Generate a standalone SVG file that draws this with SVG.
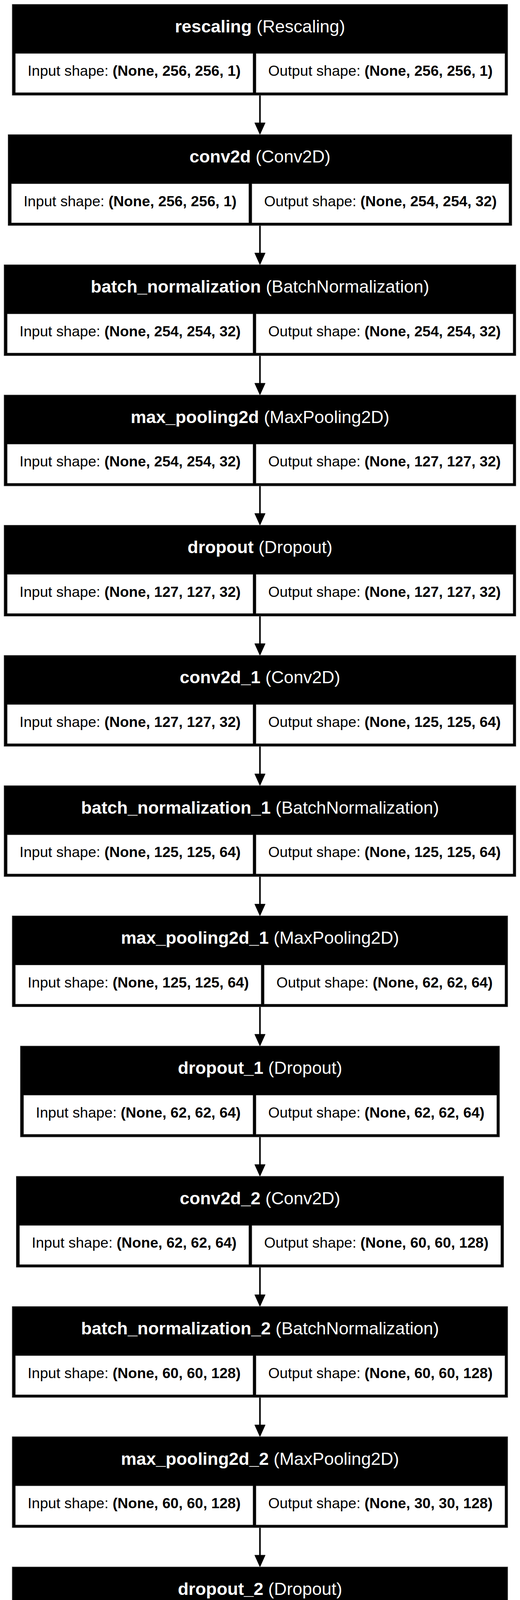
<svg xmlns="http://www.w3.org/2000/svg" width="1331" height="5922" viewBox="0 0 1331 5922">
<style>
.bg{fill:#ffffff}
.box{fill:#000000;stroke:#555555;stroke-width:1}
.cell{fill:#ffffff;stroke:#666666;stroke-width:0.8}
.h{font-family:"Liberation Sans",Arial,Helvetica,sans-serif;font-size:44.8px;fill:#ffffff;text-anchor:middle}
.b{font-family:"Liberation Sans",Arial,Helvetica,sans-serif;font-size:37.6px;fill:#000000;text-anchor:middle}
.bd{font-weight:bold}
.edge line{stroke:#000000;stroke-width:4}
.edge polygon{fill:#000000;stroke:#000000;stroke-width:1}
</style>
<rect class="bg" x="0" y="0" width="1331" height="5922"/>
<g id="connectors" class="edge">
<line x1="665.4" y1="244" x2="665.4" y2="316.35"/><polygon points="651.9,314.35 678.9,314.35 665.4,344.35"/>
<line x1="665.4" y1="577.35" x2="665.4" y2="649.7"/><polygon points="651.9,647.7 678.9,647.7 665.4,677.7"/>
<line x1="665.4" y1="910.7" x2="665.4" y2="983.05"/><polygon points="651.9,981.05 678.9,981.05 665.4,1011.05"/>
<line x1="665.4" y1="1244.05" x2="665.4" y2="1316.4"/><polygon points="651.9,1314.4 678.9,1314.4 665.4,1344.4"/>
<line x1="665.4" y1="1577.4" x2="665.4" y2="1649.75"/><polygon points="651.9,1647.75 678.9,1647.75 665.4,1677.75"/>
<line x1="665.4" y1="1910.75" x2="665.4" y2="1983.1"/><polygon points="651.9,1981.1 678.9,1981.1 665.4,2011.1"/>
<line x1="665.4" y1="2244.1" x2="665.4" y2="2316.45"/><polygon points="651.9,2314.45 678.9,2314.45 665.4,2344.45"/>
<line x1="665.4" y1="2577.45" x2="665.4" y2="2649.8"/><polygon points="651.9,2647.8 678.9,2647.8 665.4,2677.8"/>
<line x1="665.4" y1="2910.8" x2="665.4" y2="2983.15"/><polygon points="651.9,2981.15 678.9,2981.15 665.4,3011.15"/>
<line x1="665.4" y1="3244.15" x2="665.4" y2="3316.5"/><polygon points="651.9,3314.5 678.9,3314.5 665.4,3344.5"/>
<line x1="665.4" y1="3577.5" x2="665.4" y2="3649.85"/><polygon points="651.9,3647.85 678.9,3647.85 665.4,3677.85"/>
<line x1="665.4" y1="3910.85" x2="665.4" y2="3983.2"/><polygon points="651.9,3981.2 678.9,3981.2 665.4,4011.2"/>
<line x1="665.4" y1="4244.2" x2="665.4" y2="4316.55"/><polygon points="651.9,4314.55 678.9,4314.55 665.4,4344.55"/>
<line x1="665.4" y1="4577.55" x2="665.4" y2="4649.9"/><polygon points="651.9,4647.9 678.9,4647.9 665.4,4677.9"/>
<line x1="665.4" y1="4910.9" x2="665.4" y2="4983.25"/><polygon points="651.9,4981.25 678.9,4981.25 665.4,5011.25"/>
<line x1="665.4" y1="5244.25" x2="665.4" y2="5316.6"/><polygon points="651.9,5314.6 678.9,5314.6 665.4,5344.6"/>
<line x1="665.4" y1="5577.6" x2="665.4" y2="5649.95"/><polygon points="651.9,5647.95 678.9,5647.95 665.4,5677.95"/>
</g>

<g id="node-rescaling" transform="translate(0,11)">
<rect class="box" x="31.1" y="0" width="1268.6" height="233"/>
<rect class="cell" x="39.6" y="126" width="607.7" height="100"/>
<rect class="cell" x="655.3" y="126" width="636.9" height="100"/>
<text class="h" x="665.5" y="71.7"><tspan class="bd">rescaling</tspan> (Rescaling)</text>
<text class="b" x="343.45" y="183.3">Input shape: <tspan class="bd">(None, 256, 256, 1)</tspan></text>
<text class="b" x="973.75" y="183.3">Output shape: <tspan class="bd">(None, 256, 256, 1)</tspan></text>
</g>

<g id="node-conv2d" transform="translate(0,344.35)">
<rect class="box" x="20.65" y="0" width="1289.5" height="233"/>
<rect class="cell" x="29.15" y="126" width="607.7" height="100"/>
<rect class="cell" x="644.85" y="126" width="657.8" height="100"/>
<text class="h" x="665.5" y="71.7"><tspan class="bd">conv2d</tspan> (Conv2D)</text>
<text class="b" x="333.0" y="183.3">Input shape: <tspan class="bd">(None, 256, 256, 1)</tspan></text>
<text class="b" x="973.75" y="183.3">Output shape: <tspan class="bd">(None, 254, 254, 32)</tspan></text>
</g>

<g id="node-batch_normalization" transform="translate(0,677.7)">
<rect class="box" x="10.2" y="0" width="1310.4" height="233"/>
<rect class="cell" x="18.7" y="126" width="628.6" height="100"/>
<rect class="cell" x="655.3" y="126" width="657.8" height="100"/>
<text class="h" x="665.5" y="71.7"><tspan class="bd">batch_normalization</tspan> (BatchNormalization)</text>
<text class="b" x="333.0" y="183.3">Input shape: <tspan class="bd">(None, 254, 254, 32)</tspan></text>
<text class="b" x="984.2" y="183.3">Output shape: <tspan class="bd">(None, 254, 254, 32)</tspan></text>
</g>

<g id="node-max_pooling2d" transform="translate(0,1011.05)">
<rect class="box" x="10.2" y="0" width="1310.4" height="233"/>
<rect class="cell" x="18.7" y="126" width="628.6" height="100"/>
<rect class="cell" x="655.3" y="126" width="657.8" height="100"/>
<text class="h" x="665.5" y="71.7"><tspan class="bd">max_pooling2d</tspan> (MaxPooling2D)</text>
<text class="b" x="333.0" y="183.3">Input shape: <tspan class="bd">(None, 254, 254, 32)</tspan></text>
<text class="b" x="984.2" y="183.3">Output shape: <tspan class="bd">(None, 127, 127, 32)</tspan></text>
</g>

<g id="node-dropout" transform="translate(0,1344.4)">
<rect class="box" x="10.2" y="0" width="1310.4" height="233"/>
<rect class="cell" x="18.7" y="126" width="628.6" height="100"/>
<rect class="cell" x="655.3" y="126" width="657.8" height="100"/>
<text class="h" x="665.5" y="71.7"><tspan class="bd">dropout</tspan> (Dropout)</text>
<text class="b" x="333.0" y="183.3">Input shape: <tspan class="bd">(None, 127, 127, 32)</tspan></text>
<text class="b" x="984.2" y="183.3">Output shape: <tspan class="bd">(None, 127, 127, 32)</tspan></text>
</g>

<g id="node-conv2d_1" transform="translate(0,1677.75)">
<rect class="box" x="10.2" y="0" width="1310.4" height="233"/>
<rect class="cell" x="18.7" y="126" width="628.6" height="100"/>
<rect class="cell" x="655.3" y="126" width="657.8" height="100"/>
<text class="h" x="665.5" y="71.7"><tspan class="bd">conv2d_1</tspan> (Conv2D)</text>
<text class="b" x="333.0" y="183.3">Input shape: <tspan class="bd">(None, 127, 127, 32)</tspan></text>
<text class="b" x="984.2" y="183.3">Output shape: <tspan class="bd">(None, 125, 125, 64)</tspan></text>
</g>

<g id="node-batch_normalization_1" transform="translate(0,2011.1)">
<rect class="box" x="10.2" y="0" width="1310.4" height="233"/>
<rect class="cell" x="18.7" y="126" width="628.6" height="100"/>
<rect class="cell" x="655.3" y="126" width="657.8" height="100"/>
<text class="h" x="665.5" y="71.7"><tspan class="bd">batch_normalization_1</tspan> (BatchNormalization)</text>
<text class="b" x="333.0" y="183.3">Input shape: <tspan class="bd">(None, 125, 125, 64)</tspan></text>
<text class="b" x="984.2" y="183.3">Output shape: <tspan class="bd">(None, 125, 125, 64)</tspan></text>
</g>

<g id="node-max_pooling2d_1" transform="translate(0,2344.45)">
<rect class="box" x="31.1" y="0" width="1268.6" height="233"/>
<rect class="cell" x="39.6" y="126" width="628.6" height="100"/>
<rect class="cell" x="676.2" y="126" width="616.0" height="100"/>
<text class="h" x="665.5" y="71.7"><tspan class="bd">max_pooling2d_1</tspan> (MaxPooling2D)</text>
<text class="b" x="353.9" y="183.3">Input shape: <tspan class="bd">(None, 125, 125, 64)</tspan></text>
<text class="b" x="984.2" y="183.3">Output shape: <tspan class="bd">(None, 62, 62, 64)</tspan></text>
</g>

<g id="node-dropout_1" transform="translate(0,2677.8)">
<rect class="box" x="52.0" y="0" width="1226.8" height="233"/>
<rect class="cell" x="60.5" y="126" width="586.8" height="100"/>
<rect class="cell" x="655.3" y="126" width="616.0" height="100"/>
<text class="h" x="665.5" y="71.7"><tspan class="bd">dropout_1</tspan> (Dropout)</text>
<text class="b" x="353.9" y="183.3">Input shape: <tspan class="bd">(None, 62, 62, 64)</tspan></text>
<text class="b" x="963.3" y="183.3">Output shape: <tspan class="bd">(None, 62, 62, 64)</tspan></text>
</g>

<g id="node-conv2d_2" transform="translate(0,3011.15)">
<rect class="box" x="41.55" y="0" width="1247.7" height="233"/>
<rect class="cell" x="50.05" y="126" width="586.8" height="100"/>
<rect class="cell" x="644.85" y="126" width="636.9" height="100"/>
<text class="h" x="665.5" y="71.7"><tspan class="bd">conv2d_2</tspan> (Conv2D)</text>
<text class="b" x="343.45" y="183.3">Input shape: <tspan class="bd">(None, 62, 62, 64)</tspan></text>
<text class="b" x="963.3" y="183.3">Output shape: <tspan class="bd">(None, 60, 60, 128)</tspan></text>
</g>

<g id="node-batch_normalization_2" transform="translate(0,3344.5)">
<rect class="box" x="31.1" y="0" width="1268.6" height="233"/>
<rect class="cell" x="39.6" y="126" width="607.7" height="100"/>
<rect class="cell" x="655.3" y="126" width="636.9" height="100"/>
<text class="h" x="665.5" y="71.7"><tspan class="bd">batch_normalization_2</tspan> (BatchNormalization)</text>
<text class="b" x="343.45" y="183.3">Input shape: <tspan class="bd">(None, 60, 60, 128)</tspan></text>
<text class="b" x="973.75" y="183.3">Output shape: <tspan class="bd">(None, 60, 60, 128)</tspan></text>
</g>

<g id="node-max_pooling2d_2" transform="translate(0,3677.85)">
<rect class="box" x="31.1" y="0" width="1268.6" height="233"/>
<rect class="cell" x="39.6" y="126" width="607.7" height="100"/>
<rect class="cell" x="655.3" y="126" width="636.9" height="100"/>
<text class="h" x="665.5" y="71.7"><tspan class="bd">max_pooling2d_2</tspan> (MaxPooling2D)</text>
<text class="b" x="343.45" y="183.3">Input shape: <tspan class="bd">(None, 60, 60, 128)</tspan></text>
<text class="b" x="973.75" y="183.3">Output shape: <tspan class="bd">(None, 30, 30, 128)</tspan></text>
</g>

<g id="node-dropout_2" transform="translate(0,4011.2)">
<rect class="box" x="31.1" y="0" width="1268.6" height="233"/>
<rect class="cell" x="39.6" y="126" width="607.7" height="100"/>
<rect class="cell" x="655.3" y="126" width="636.9" height="100"/>
<text class="h" x="665.5" y="71.7"><tspan class="bd">dropout_2</tspan> (Dropout)</text>
<text class="b" x="343.45" y="183.3">Input shape: <tspan class="bd">(None, 30, 30, 128)</tspan></text>
<text class="b" x="973.75" y="183.3">Output shape: <tspan class="bd">(None, 30, 30, 128)</tspan></text>
</g>

<g id="node-flatten" transform="translate(0,4344.55)">
<rect class="box" x="62.45" y="0" width="1205.9" height="233"/>
<rect class="cell" x="70.95" y="126" width="607.7" height="100"/>
<rect class="cell" x="686.65" y="126" width="574.2" height="100"/>
<text class="h" x="665.5" y="71.7"><tspan class="bd">flatten</tspan> (Flatten)</text>
<text class="b" x="374.8" y="183.3">Input shape: <tspan class="bd">(None, 30, 30, 128)</tspan></text>
<text class="b" x="973.75" y="183.3">Output shape: <tspan class="bd">(None, 115200)</tspan></text>
</g>

<g id="node-dense" transform="translate(0,4677.9)">
<rect class="box" x="125.1" y="0" width="1080.6" height="233"/>
<rect class="cell" x="133.6" y="126" width="545.0" height="100"/>
<rect class="cell" x="686.6" y="126" width="511.6" height="100"/>
<text class="h" x="665.5" y="71.7"><tspan class="bd">dense</tspan> (Dense)</text>
<text class="b" x="406.1" y="183.3">Input shape: <tspan class="bd">(None, 115200)</tspan></text>
<text class="b" x="942.4" y="183.3">Output shape: <tspan class="bd">(None, 256)</tspan></text>
</g>

<g id="node-batch_normalization_3" transform="translate(0,5011.25)">
<rect class="box" x="156.45" y="0" width="1017.9" height="233"/>
<rect class="cell" x="164.95" y="126" width="482.3" height="100"/>
<rect class="cell" x="655.25" y="126" width="511.6" height="100"/>
<text class="h" x="665.5" y="71.7"><tspan class="bd">batch_normalization_3</tspan> (BatchNormalization)</text>
<text class="b" x="406.1" y="183.3">Input shape: <tspan class="bd">(None, 256)</tspan></text>
<text class="b" x="911.05" y="183.3">Output shape: <tspan class="bd">(None, 256)</tspan></text>
</g>

<g id="node-dropout_3" transform="translate(0,5344.6)">
<rect class="box" x="156.45" y="0" width="1017.9" height="233"/>
<rect class="cell" x="164.95" y="126" width="482.3" height="100"/>
<rect class="cell" x="655.25" y="126" width="511.6" height="100"/>
<text class="h" x="665.5" y="71.7"><tspan class="bd">dropout_3</tspan> (Dropout)</text>
<text class="b" x="406.1" y="183.3">Input shape: <tspan class="bd">(None, 256)</tspan></text>
<text class="b" x="911.05" y="183.3">Output shape: <tspan class="bd">(None, 256)</tspan></text>
</g>

<g id="node-dense_1" transform="translate(0,5677.95)">
<rect class="box" x="177.35" y="0" width="976.1" height="233"/>
<rect class="cell" x="185.85" y="126" width="482.3" height="100"/>
<rect class="cell" x="676.15" y="126" width="469.8" height="100"/>
<text class="h" x="665.5" y="71.7"><tspan class="bd">dense_1</tspan> (Dense)</text>
<text class="b" x="427.0" y="183.3">Input shape: <tspan class="bd">(None, 256)</tspan></text>
<text class="b" x="911.05" y="183.3">Output shape: <tspan class="bd">(None, 4)</tspan></text>
</g>
</svg>
